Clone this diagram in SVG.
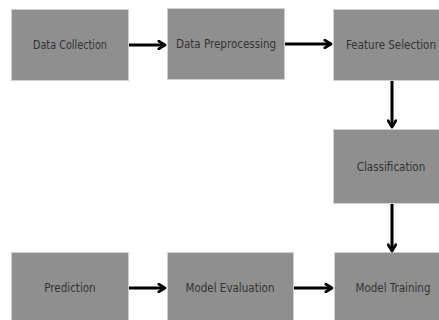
<svg xmlns="http://www.w3.org/2000/svg" width="439" height="320" viewBox="0 0 439 320">
<defs>
<style>
.box{fill:#8f8f8f;stroke:#d0d0d0;stroke-width:1}
.lbl{font-family:"DejaVu Sans Condensed","DejaVu Sans",sans-serif;font-size:11.5px;fill:#333;text-anchor:middle;dominant-baseline:central}
.con{stroke:#000;stroke-width:3;fill:none}
</style>
<marker id="ah" viewBox="0 0 10 10" refX="8" refY="5" markerWidth="3.2" markerHeight="3.2" orient="auto" markerUnits="strokeWidth">
<path d="M1.5,1 L8,5 L1.5,9" fill="none" stroke="#000" stroke-width="2.8" stroke-linecap="round" stroke-linejoin="round"/>
</marker>
</defs>
<rect width="439" height="320" fill="#fff"/>
<g id="n1"><rect class="box" x="11.5" y="9.5" width="117" height="71"/><text class="lbl" x="70" y="45" textLength="74" lengthAdjust="spacingAndGlyphs">Data Collection</text></g>
<g id="n2"><rect class="box" x="167.5" y="8.5" width="117" height="71"/><text class="lbl" x="226" y="44">Data Preprocessing</text></g>
<g id="n3"><rect class="box" x="333.5" y="9.5" width="117" height="71"/><text class="lbl" x="391" y="45">Feature Selection</text></g>
<g id="n4"><rect class="box" x="333.5" y="129.5" width="117" height="74"/><text class="lbl" x="391" y="167">Classification</text></g>
<g id="n5"><rect class="box" x="334.5" y="252.5" width="117" height="72"/><text class="lbl" x="393" y="288">Model Training</text></g>
<g id="n6"><rect class="box" x="167.5" y="252.5" width="126" height="72"/><text class="lbl" x="230" y="288">Model Evaluation</text></g>
<g id="n7"><rect class="box" x="11.5" y="252.5" width="117" height="72"/><text class="lbl" x="70" y="288">Prediction</text></g>
<g id="connectors">
<line class="con" x1="129" y1="45" x2="165" y2="45" marker-end="url(#ah)"/>
<line class="con" x1="285" y1="44" x2="331" y2="44" marker-end="url(#ah)"/>
<line class="con" x1="392" y1="81" x2="392" y2="127" marker-end="url(#ah)"/>
<line class="con" x1="392" y1="204" x2="392" y2="251" marker-end="url(#ah)"/>
<line class="con" x1="129" y1="288" x2="165" y2="288" marker-end="url(#ah)"/>
<line class="con" x1="294" y1="288" x2="332" y2="288" marker-end="url(#ah)"/>
</g>
</svg>
